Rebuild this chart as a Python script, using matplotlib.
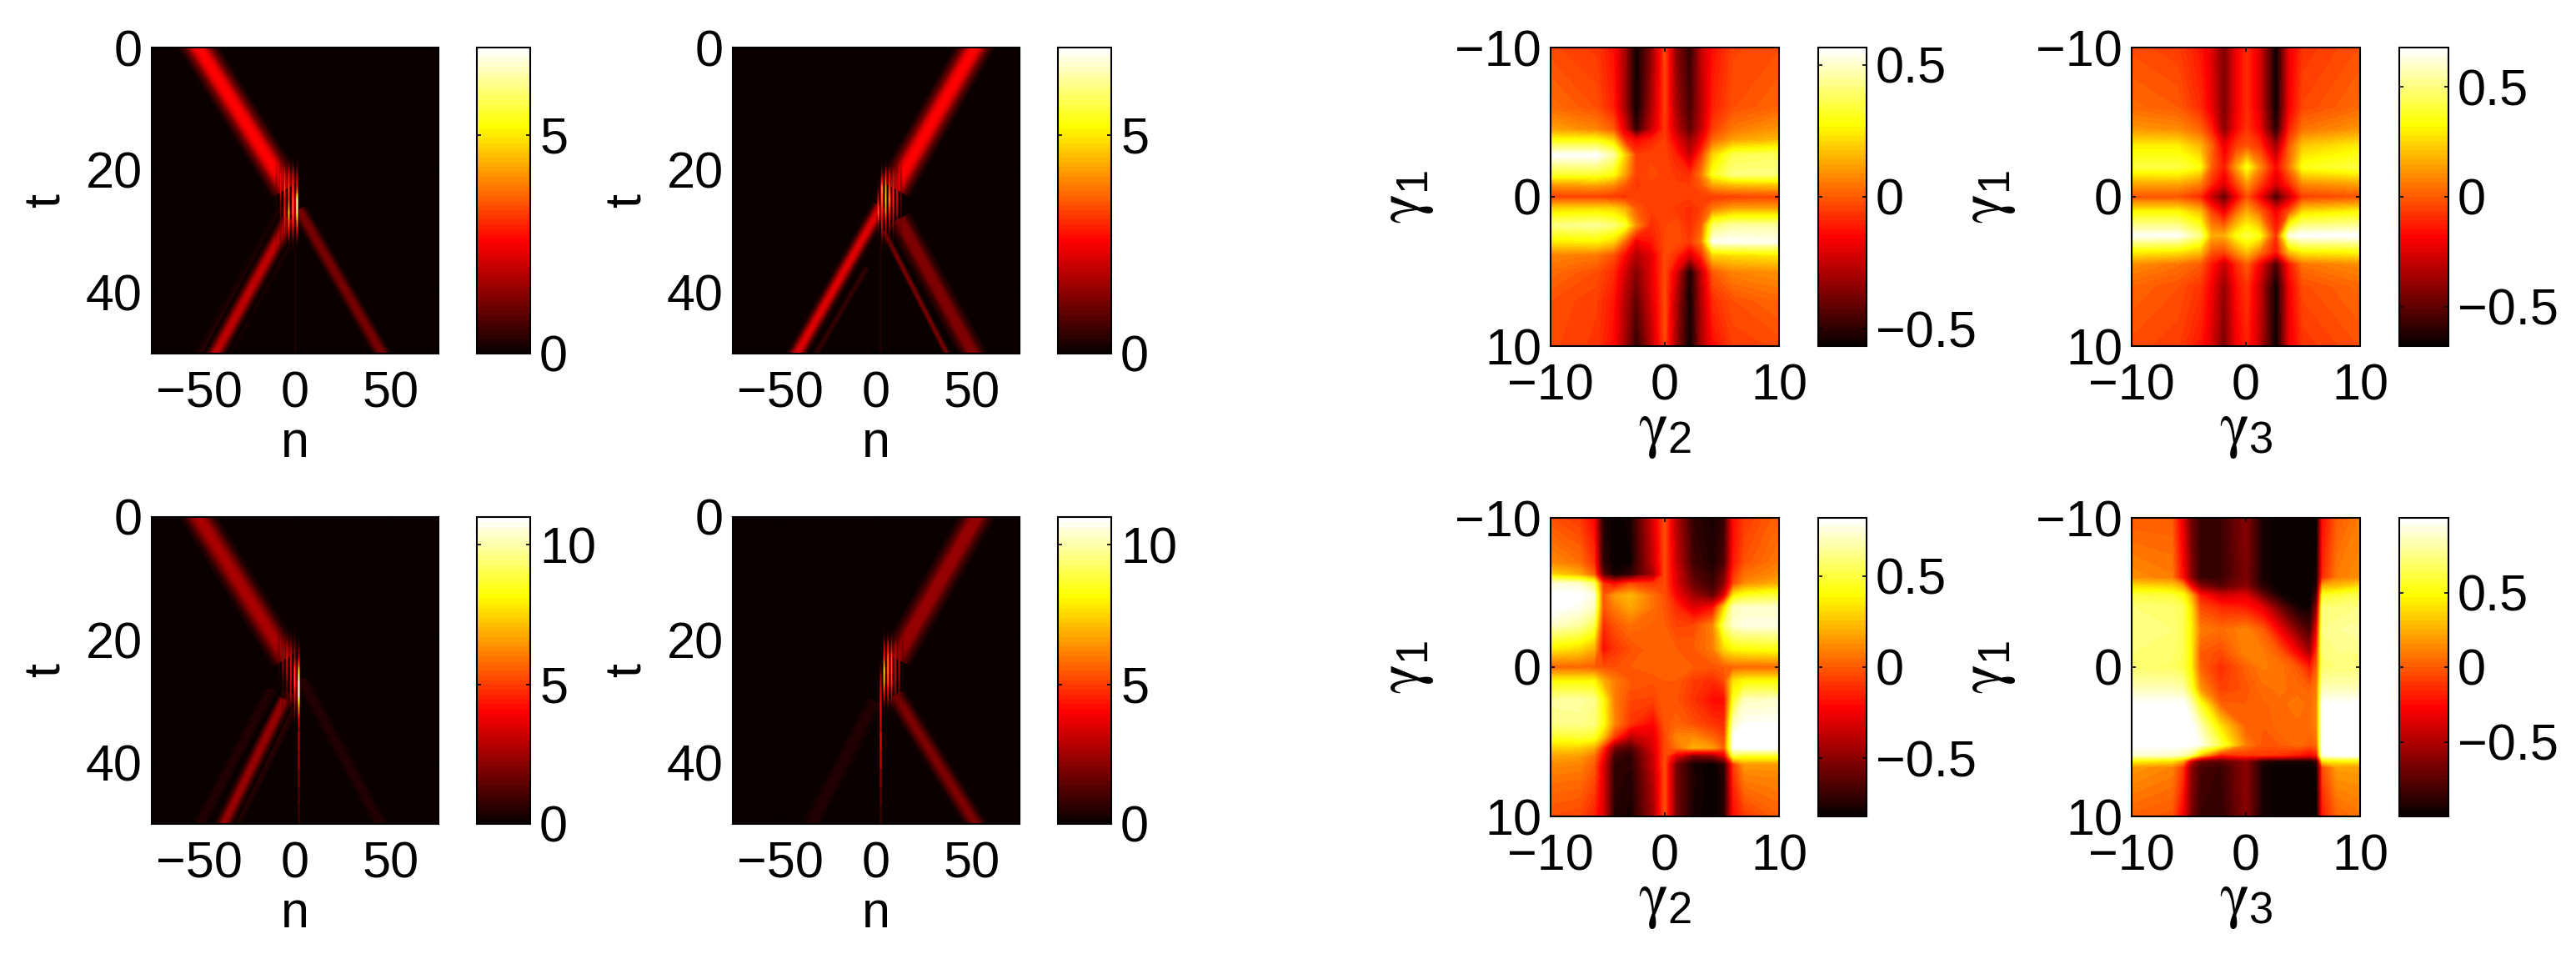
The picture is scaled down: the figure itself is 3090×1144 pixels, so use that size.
import numpy as np
import matplotlib
matplotlib.use("Agg")
import matplotlib.pyplot as plt
from matplotlib.cm import ScalarMappable
from matplotlib.colors import ListedColormap, Normalize

plt.rcParams['font.family'] = ['Liberation Sans', 'DejaVu Sans']
plt.rcParams['mathtext.fontset'] = 'custom'
plt.rcParams['mathtext.rm'] = 'Liberation Sans'
plt.rcParams['mathtext.it'] = 'STIXGeneral'

W, H = 3090, 1144
FS = 44

# --- soliton panels: straight tracks as n0, t0, n1, t1, peak, width in px
tracks_a = [
    [-56.5, -3, -4.5, 23, 2.6, 48],
    [-1, 27, -48.5, 53, 0.8, 52],
    [-3, 28, -47, 53, 1.9, 28],
    [2, 26.5, 51, 53, 1.2, 26],
    [0, 33, 0, 53, 0.35, 3],
]
tracks_b = [
    [57, -3, 9.5, 23, 2.6, 48],
    [2.5, 26, -47, 53, 2.2, 26],
    [-5, 36, -37, 53, 0.5, 12],
    [12, 28, 56, 53, 1.3, 38],
    [4, 30, 42, 53, 1.2, 11],
    [2, 32, 2, 53, 0.3, 3],
]
tracks_c = [
    [-56.5, -3, -4.7, 23, 2.6, 48],
    [-1, 29, -40, 53, 1.0, 42],
    [-5.5, 29.7, -42, 53, 2.4, 26],
    [-12.3, 28, -55, 53, 0.5, 24],
    [3.5, 26.5, 50, 53, 0.5, 26],
]
tracks_d = [
    [58, -3, 10.5, 23, 2.4, 48],
    [-0.6, 30, -39, 53, 0.5, 32],
    [10, 29, 58, 53, 1.9, 32],
]

# cross section of a track: share of the width and share of the peak
beam_widths = [1.0, 0.92, 0.84, 0.76, 0.68, 0.6, 0.52, 0.44, 0.36, 0.28, 0.2, 0.12]
beam_levels = [0.02, 0.05, 0.1, 0.17, 0.26, 0.37, 0.5, 0.63, 0.76, 0.87, 0.95, 1.0]

# fringes in the collision: one row per fringe, one value per fringe_t
fringe_t = [17, 19, 21, 23, 25, 27, 29, 31, 33, 35]
fringe_n_a = [-9.6, -7.5, -5.4, -3.3, -1.2, 0.9]
fringe_a = [
    [0, 0.2, 0.8, 1.0, 0.6, 0.5, 0.4, 0.4, 0.2, 0],
    [0, 0.5, 2.6, 2.6, 1.5, 1.2, 1.0, 1.0, 0.3, 0],
    [0, 1.0, 2.8, 3.4, 2.6, 3.0, 2.5, 1.5, 0.3, 0],
    [0, 1.0, 2.6, 3.4, 3.0, 5.0, 3.5, 1.6, 0.3, 0],
    [0, 1.0, 2.5, 3.5, 4.5, 4.5, 3.0, 1.5, 0.3, 0],
    [0, 0.8, 2.0, 3.0, 7.0, 6.5, 3.5, 1.5, 0.3, 0],
]
fringe_n_b = [1.2, 3.2, 5.1, 7.1, 9.0, 11.2, 13.0]
fringe_b = [
    [0, 0, 0.2, 1.0, 2.5, 4.5, 1.5, 0.5, 0.2, 0],
    [0, 0.5, 2.0, 5.0, 4.5, 3.5, 2.6, 1.5, 0.6, 0],
    [0, 0.6, 2.6, 4.5, 5.0, 4.0, 2.0, 1.2, 0.5, 0],
    [0, 0.6, 2.6, 4.0, 5.0, 3.5, 2.0, 1.0, 0.4, 0],
    [0, 0.5, 2.3, 3.0, 3.0, 2.6, 1.5, 0.8, 0.3, 0],
    [0, 0.3, 2.2, 2.6, 2.6, 2.0, 1.2, 0.6, 0.2, 0],
    [0, 0.2, 1.0, 1.3, 1.3, 1.0, 0.6, 0.3, 0.1, 0],
]
fringe_n_c = [-8.3, -6.1, -4.1, -2.0, -0.1, 1.9]
fringe_c = [
    [0, 0.4, 1.5, 1.8, 1.3, 0.6, 0.5, 0.3, 0.1, 0],
    [0, 0.8, 2.6, 3.0, 2.6, 1.5, 1.3, 0.8, 0.3, 0],
    [0, 1.0, 3.0, 4.0, 3.5, 2.5, 2.0, 1.0, 0.4, 0.1],
    [0, 1.0, 2.6, 4.0, 4.0, 3.5, 3.0, 1.5, 0.5, 0.2],
    [0, 1.0, 2.0, 3.0, 5.5, 6.0, 4.0, 2.5, 1.0, 0.3],
    [0, 0, 1.5, 3.0, 8.0, 11.0, 11.0, 7.0, 3.5, 2.5],
]
fringe_n_d = [2.2, 4.1, 5.8, 8.0, 10.0, 11.9, 13.7]
fringe_d = [
    [0, 0, 0, 0.5, 2.0, 3.5, 4.0, 4.5, 4.0, 3.5],
    [0, 1.0, 3.0, 5.0, 8.5, 7.5, 4.0, 1.5, 0.6, 0.3],
    [0, 1.0, 4.0, 7.0, 7.5, 6.5, 4.0, 1.5, 0.5, 0.2],
    [0, 0.8, 3.0, 5.5, 5.5, 5.0, 3.0, 1.0, 0.3, 0.1],
    [0, 0.5, 3.0, 4.0, 4.0, 3.5, 2.5, 0.8, 0.2, 0],
    [0, 0.3, 2.5, 3.0, 3.0, 2.6, 2.0, 0.6, 0.2, 0],
    [0, 0.1, 1.0, 1.2, 1.0, 0.9, 0.7, 0.3, 0, 0],
]

# thin vertical remains below the collision, panels c and d
tail_t = [35, 38, 41, 44, 47, 50]
tail_c = [2.5, 2.2, 1.7, 1.2, 0.7, 0.3]
tail_d = [3.5, 3.0, 2.0, 1.3, 0.8, 0.4]

# --- parameter maps
x_e = [-10, -6, -4.5, -3.5, -2.5, -1.2, 0, 1, 2.2, 3.2, 4.2, 6, 10]
y_e = [-10, -6, -4.5, -3.8, -2.8, -1.5, -0.8, 0, 0.8, 1.9, 3, 3.9, 5, 7, 10]
z_e = [
    [-.03, -.06, -.13, -.30, -.56, -.35, -.03, -.35, -.50, -.25, -.13, -.04, -.02],
    [.03, -.02, -.10, -.30, -.56, -.30, -.05, -.30, -.46, -.28, -.10, -.02, .02],
    [.12, .07, .0, -.2, -.50, -.25, -.06, -.25, -.42, -.25, -.05, .05, .10],
    [.28, .28, .2, -.08, -.15, -.1, -.05, -.18, -.33, -.18, .02, .12, .16],
    [.56, .56, .45, .2, -.05, -.04, -.04, -.1, -.25, -.06, .2, .36, .38],
    [.32, .33, .28, .12, -.05, -.03, -.04, -.06, -.08, .05, .30, .42, .42],
    [.10, .12, .08, .0, -.06, -.04, -.04, -.05, -.05, .0, .12, .16, .18],
    [-.05, -.05, -.06, -.07, -.05, -.04, -.04, -.04, -.05, -.05, -.06, -.05, -.04],
    [.2, .22, .2, .14, .0, -.05, -.04, -.06, -.08, -.05, .05, .12, .12],
    [.42, .44, .40, .32, .08, -.08, -.04, -.02, -.08, .0, .38, .45, .45],
    [.24, .26, .2, .02, -.18, -.12, -.03, -.02, -.06, .05, .54, .55, .54],
    [.07, .05, -.02, -.14, -.28, -.2, -.03, -.08, -.22, -.08, .2, .22, .24],
    [.03, -.02, -.08, -.22, -.36, -.2, -.03, -.2, -.54, -.25, .0, .07, .09],
    [-.02, -.05, -.12, -.28, -.42, -.22, -.03, -.28, -.56, -.28, -.08, -.02, .02],
    [-.03, -.06, -.14, -.30, -.50, -.28, -.03, -.32, -.56, -.30, -.14, -.05, -.03],
]

x_f = [-10, -6, -4, -3, -1.9, -0.8, 0.1, 1.2, 2.65, 3.8, 5, 10]
y_f = [-10, -6, -4.5, -3.4, -2, -0.9, 0, 1, 2.6, 3.7, 4.5, 6, 10]
z_f = [
    [-.03, -.06, -.14, -.25, -.45, -.2, -.10, -.25, -.68, -.22, -.08, -.02],
    [.03, .0, -.10, -.22, -.45, -.2, -.10, -.25, -.68, -.2, -.04, .03],
    [.12, .1, .02, -.12, -.42, -.18, -.08, -.2, -.62, -.12, .05, .12],
    [.3, .3, .18, .02, -.22, -.06, -.02, -.08, -.38, .0, .22, .3],
    [.42, .42, .34, .0, -.14, .14, .36, .1, -.18, .05, .36, .42],
    [.15, .16, .08, -.1, -.24, -.04, .12, -.04, -.26, -.1, .1, .15],
    [-.02, -.02, -.1, -.3, -.5, -.2, -.03, -.2, -.55, -.3, -.06, -.02],
    [.32, .32, .2, -.06, -.22, .02, .16, .02, -.2, -.02, .26, .32],
    [.66, .66, .5, .16, .16, .34, .42, .34, -.1, .62, .68, .68],
    [.3, .28, .2, -.02, -.05, .1, .2, .05, -.15, .2, .3, .32],
    [.1, .05, 0, -.14, -.3, -.1, .0, -.2, -.55, -.14, .05, .1],
    [.02, -.02, -.08, -.2, -.4, -.16, -.08, -.28, -.68, -.2, -.03, .03],
    [-.03, -.06, -.14, -.26, -.45, -.2, -.12, -.3, -.68, -.22, -.08, -.02],
]

x_g = [-10, -7.5, -6.2, -5.4, -4.4, -3, -1, 0, 1, 2.5, 4.2, 5.2, 6, 7, 10]
y_g = [-10, -7, -6.2, -5.6, -4.8, -4, -2.8, -1.2, 0, 0.9, 2.2, 3.8, 4.7, 5.4, 5.95, 6.5, 7.5, 10]
z_g = [
    [-.03, -.08, -.22, -.75, -.82, -.78, -.3, -.03, -.4, -.72, -.78, -.7, -.2, -.08, .02],
    [.12, .05, -.1, -.72, -.82, -.8, -.35, -.04, -.35, -.68, -.76, -.65, -.18, -.02, .08],
    [.3, .2, .02, -.6, -.78, -.72, -.42, -.05, -.3, -.62, -.72, -.55, -.1, .05, .12],
    [.75, .72, .55, -.1, -.22, -.05, -.1, -.05, -.3, -.58, -.7, -.5, -.05, .12, .2],
    [.82, .82, .75, -.02, .15, .22, .05, -.03, -.22, -.45, -.6, -.3, .35, .45, .5],
    [.82, .78, .7, -.02, .08, .18, .05, -.02, -.12, -.3, -.2, .3, .7, .72, .72],
    [.72, .65, .52, -.12, -.02, .05, .02, .0, -.06, -.05, .1, .55, .72, .76, .76],
    [.35, .3, .2, -.2, -.1, -.03, .02, .02, .0, .0, .08, .3, .38, .4, .42],
    [.02, .02, .0, -.03, -.03, .0, .02, .02, .02, .0, -.02, .0, .02, .03, .03],
    [.38, .38, .38, .2, .08, .0, -.02, .0, .0, -.08, -.12, -.05, .32, .38, .38],
    [.65, .66, .62, .4, .08, -.05, -.06, .0, -.02, -.1, -.2, -.2, .45, .7, .72],
    [.62, .62, .6, .42, .1, -.1, -.22, -.02, .02, -.03, -.1, -.12, .7, .8, .8],
    [.45, .48, .45, .25, -.1, -.4, -.28, -.05, .1, .12, .02, -.05, .8, .82, .82],
    [.3, .28, .2, -.1, -.55, -.65, -.3, -.05, .05, .2, .15, .0, .8, .82, .82],
    [.18, .16, .05, -.2, -.68, -.72, -.35, -.04, -.3, -.55, -.5, -.3, .5, .45, .45],
    [.12, .1, .0, -.28, -.72, -.74, -.35, -.03, -.55, -.78, -.82, -.72, -.08, .15, .15],
    [.06, .05, -.04, -.3, -.72, -.76, -.4, -.03, -.55, -.76, -.82, -.75, -.12, .08, .1],
    [-.03, -.05, -.14, -.3, -.75, -.78, -.45, -.03, -.55, -.78, -.82, -.75, -.2, -.08, .02],
]

x_h = [-10, -6.5, -5.5, -4.8, -4, -2.2, 0, 1.5, 3, 4.5, 5.6, 6.2, 6.7, 8, 10]
y_h = [-10, -6, -5.4, -4.8, -4, -2.5, -1, 0, 1.5, 2.5, 4, 5.2, 5.9, 6.3, 6.7, 10]
z_h = [
    [.0, .0, -.35, -.7, -.85, -.85, -.62, -.95, -1, -1, -1, -1, -.25, .0, .1],
    [.15, .1, -.25, -.6, -.85, -.85, -.65, -.95, -1, -1, -1, -.95, -.15, .1, .15],
    [.4, .35, .2, -.25, -.6, -.75, -.6, -.9, -1, -1, -1, -.9, .25, .3, .4],
    [.62, .6, .5, .25, -.2, -.4, -.35, -.7, -.95, -1, -1, -.8, .55, .6, .65],
    [.72, .7, .65, .4, -.05, -.15, -.2, -.35, -.7, -.95, -.98, -.6, .72, .72, .75],
    [.75, .72, .65, .45, .1, .05, .12, .0, -.3, -.65, -.8, -.3, .75, .78, .8],
    [.72, .7, .65, .45, .0, -.05, .12, .1, -.02, -.28, -.55, -.1, .72, .75, .75],
    [.7, .68, .62, .45, .02, -.14, .02, .1, .08, -.02, -.2, .0, .7, .72, .72],
    [.85, .85, .82, .6, .18, -.08, -.02, .05, .07, .05, .02, .1, .85, .85, .85],
    [1, 1, 1, .85, .55, .02, .0, .02, .05, .08, .05, .12, 1, 1, 1],
    [1, 1, 1, 1, .85, .4, .02, .0, .05, .05, .05, .12, 1, 1, 1],
    [1, 1, 1, 1, .95, .62, .1, -.02, .0, .05, .0, .05, 1, 1, 1],
    [.9, .88, .82, .7, .3, -.2, -.12, -.1, -.12, -.2, -.28, -.2, .95, 1, 1],
    [.45, .4, .2, -.4, -.7, -.75, -.6, -.9, -.95, -.95, -.95, -.85, .4, .45, .45],
    [.18, .12, -.1, -.6, -.8, -.85, -.6, -.95, -1, -1, -1, -.95, -.05, .2, .2],
    [.02, -.02, -.3, -.65, -.85, -.88, -.62, -.95, -1, -1, -1, -1, -.2, .02, .08],
]

cmap = plt.get_cmap('hot', 64)
# same colours, low values see-through so the tracks show under the fringes
rgba = cmap(np.arange(64))
rgba[:, 3] = np.clip(np.arange(64) / 14, 0, 1)
fringe_cmap = ListedColormap(rgba)


def place(fig, x0, x1, y0, y1):
    return fig.add_axes([x0 / W, 1 - y1 / H, (x1 - x0) / W, (y1 - y0) / H])


def style(ax):
    ax.tick_params(direction='in', length=3.6, width=1.2, top=True, right=True,
                   labelsize=FS, color='k')
    ax.tick_params(axis='x', pad=15)
    ax.tick_params(axis='y', pad=8)
    for s in ax.spines.values():
        s.set_linewidth(1.5)


def add_cbar(fig, box, vmin, vmax, ticks, labels):
    cax = place(fig, *box)
    sm = ScalarMappable(Normalize(vmin, vmax), cmap)
    cb = fig.colorbar(sm, cax=cax)
    cb.set_ticks(ticks, labels=labels)
    cb.ax.tick_params(direction='in', length=3.6, width=1.2, left=True, right=True,
                      labelsize=FS, pad=8)
    cb.outline.set_linewidth(1.5)
    return cb


def soliton_panel(fig, box, cbox, tracks, fringe_n, fringe, vmax, cticks, clabels,
                  tail=None):
    ax = place(fig, *box)
    norm = Normalize(0, vmax)
    ax.set_facecolor(cmap(0))
    for n0, t0, n1, t1, peak, wid in tracks:
        for w, lev in zip(beam_widths, beam_levels):
            ax.plot([n0, n1], [t0, t1], color=cmap(norm(peak * lev)),
                    lw=wid * w * 0.72, solid_capstyle='butt')
    # fringes with empty columns between them
    mat = np.zeros((len(fringe_t), 2 * len(fringe_n) + 1))
    mat[:, 1::2] = np.array(fringe).T
    dn = (fringe_n[-1] - fringe_n[0]) / (len(fringe_n) - 1) / 2
    ext = (fringe_n[0] - 1.5 * dn, fringe_n[-1] + 1.5 * dn, fringe_t[-1] + 1, fringe_t[0] - 1)
    ax.imshow(mat, extent=ext, aspect='auto', cmap=fringe_cmap, interpolation='bilinear',
              interpolation_stage='data', norm=norm, zorder=3)
    if tail is not None:
        for i in range(len(tail_t) - 1):
            ax.plot([fringe_n[tail[0]]] * 2, tail_t[i:i + 2], color=cmap(norm(tail[1][i])),
                    lw=1.8, solid_capstyle='butt', zorder=4)
    ax.set_xlim(-75, 75)
    ax.set_ylim(50, 0)
    ax.set_xticks([-50, 0, 50])
    ax.set_yticks([0, 20, 40])
    style(ax)
    ax.set_xlabel('n', fontsize=FS)
    ax.set_ylabel('t', fontsize=FS)
    ax.xaxis.set_label_coords(0.5, -109 / (box[3] - box[2]))
    ax.yaxis.set_label_coords(-126 / (box[1] - box[0]), 0.5)
    ax.xaxis.label.set_va('center')
    ax.yaxis.label.set_va('center')
    add_cbar(fig, cbox, 0, vmax, cticks, clabels)


def map_panel(fig, box, cbox, x, y, z, v, cticks, clabels, xlab):
    ax = place(fig, *box)
    ax.contourf(x, y, z, levels=np.linspace(-v, v, 65), cmap=cmap, extend='both')
    ax.set_xlim(-10, 10)
    ax.set_ylim(10, -10)
    ax.set_xticks([-10, 0, 10])
    ax.set_yticks([-10, 0, 10])
    style(ax)
    ax.set_xlabel(xlab, fontsize=54)
    ax.set_ylabel(r'$\gamma_1$', fontsize=54)
    ax.xaxis.set_label_coords(0.5, -103 / (box[3] - box[2]))
    ax.yaxis.set_label_coords(-172 / (box[1] - box[0]), 0.5)
    ax.xaxis.label.set_va('center')
    ax.yaxis.label.set_va('center')
    add_cbar(fig, cbox, -v, v, cticks, clabels)


fig = plt.figure(figsize=(W / 100, H / 100), dpi=100)

soliton_panel(fig, (182, 526, 57, 424), (572, 636, 57, 424), tracks_a, fringe_n_a, fringe_a,
              7, [0, 5], ['0', '5'])
soliton_panel(fig, (879, 1223, 57, 424), (1269, 1333, 57, 424), tracks_b, fringe_n_b, fringe_b,
              7, [0, 5], ['0', '5'])
soliton_panel(fig, (182, 526, 620, 988), (572, 636, 620, 988), tracks_c, fringe_n_c, fringe_c,
              11, [0, 5, 10], ['0', '5', '10'], tail=(5, tail_c))
soliton_panel(fig, (879, 1223, 620, 988), (1269, 1333, 620, 988), tracks_d, fringe_n_d, fringe_d,
              11, [0, 5, 10], ['0', '5', '10'], tail=(0, tail_d))

half = ['\u22120.5', '0', '0.5']
map_panel(fig, (1860, 2134, 57, 415), (2181, 2239, 57, 415), x_e, y_e, z_e, 0.566,
          [-.5, 0, .5], half, r'$\gamma_2$')
map_panel(fig, (2557, 2831, 57, 415), (2878, 2937, 57, 415), x_f, y_f, z_f, 0.68,
          [-.5, 0, .5], half, r'$\gamma_3$')
map_panel(fig, (1860, 2134, 621, 979), (2181, 2239, 621, 979), x_g, y_g, z_g, 0.82,
          [-.5, 0, .5], half, r'$\gamma_2$')
map_panel(fig, (2557, 2831, 621, 979), (2878, 2937, 621, 979), x_h, y_h, z_h, 1.0,
          [-.5, 0, .5], half, r'$\gamma_3$')

fig.savefig('out.png', dpi=100)
